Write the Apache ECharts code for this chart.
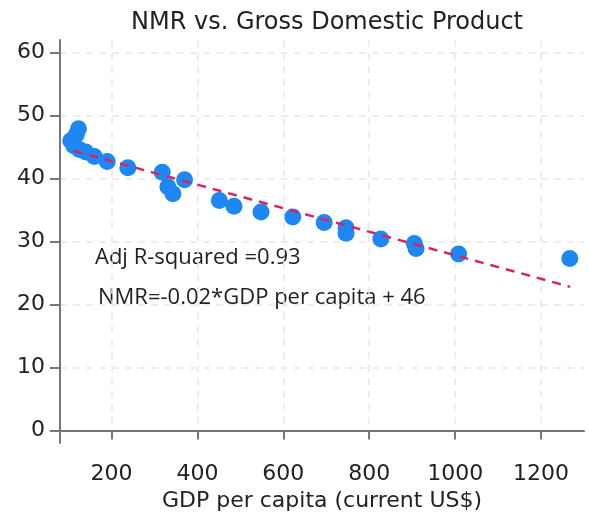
<!DOCTYPE html>
<html>
<head>
<meta charset="utf-8">
<script src="https://cdn.jsdelivr.net/npm/echarts@6/dist/echarts.min.js"></script>
<style>
html,body{margin:0;padding:0;background:#fff;}
#chart{width:589px;height:520px;}
</style>
</head>
<body>
<div id="chart"></div>
<script>
// GDP per capita (current US$)
const gdp = [105, 118, 123, 112, 125, 140, 160, 190, 238, 318, 331, 343, 370, 451, 485, 548, 622, 695, 746, 746, 827, 905, 909, 1008, 1267];
// NMR
const nmr = [46.0, 47.0, 47.9, 45.2, 44.6, 44.2, 43.5, 42.7, 41.7, 41.0, 38.7, 37.6, 39.8, 36.5, 35.6, 34.7, 33.9, 33.0, 32.2, 31.3, 30.4, 29.7, 28.9, 28.0, 27.3];
// fitted line endpoints
const fitX = [112, 1268];
const fitY = [44.4, 22.8];
const xTicks = [200, 400, 600, 800, 1000, 1200];
const yTicks = [0, 10, 20, 30, 40, 50, 60];
const titleText = 'NMR vs. Gross Domestic Product';
const xName = 'GDP per capita (current US$)';
const annot1 = 'Adj R-squared =0.93';
const annot2 = 'NMR=-0.02*GDP per capita + 46';

const points = gdp.map((g, i) => [g, nmr[i]]);
const fit = fitX.map((x, i) => [x, fitY[i]]);

const chart = echarts.init(document.getElementById('chart'));
const axisFont = {fontFamily: 'DejaVu Sans', fontSize: 22, color: '#222', formatter: v => String(v)};
const gridLine = {show: true, lineStyle: {color: '#e8e8e8', type: [7, 6], width: 1.5}};

chart.setOption({
  animation: false,
  backgroundColor: '#fff',
  title: {
    text: titleText, left: 322, top: 6, textAlign: 'center',
    textStyle: {fontFamily: 'DejaVu Sans', fontSize: 24, fontWeight: 'normal', color: '#222'}
  },
  grid: {left: 60, right: 5, top: 40, bottom: 77, containLabel: false, outerBoundsMode: 'none'},
  xAxis: {
    type: 'value', min: 80, max: 1300,
    name: xName, nameLocation: 'middle', nameGap: 44,
    nameTextStyle: {fontFamily: 'DejaVu Sans', fontSize: 22, color: '#222'},
    axisLine: {show: true, lineStyle: {color: '#777', width: 2}},
    axisTick: {show: true, length: 9, customValues: xTicks, lineStyle: {color: '#777', width: 2}},
    axisLabel: Object.assign({margin: 20, customValues: xTicks}, axisFont),
    splitLine: Object.assign({customValues: xTicks}, gridLine)
  },
  yAxis: {
    type: 'value', min: -2, max: 62,
    axisLine: {show: true, lineStyle: {color: '#777', width: 2}},
    axisTick: {show: true, length: 10, customValues: yTicks, lineStyle: {color: '#777', width: 2}},
    axisLabel: Object.assign({margin: 15, customValues: yTicks}, axisFont),
    splitLine: Object.assign({customValues: yTicks}, gridLine)
  },
  graphic: [
    {type: 'text', left: 95, top: 247, style: {text: annot1, font: '22px "Open Sans"', fill: '#222'}},
    {type: 'text', left: 98, top: 287, style: {text: annot2, font: '22px "Open Sans"', fill: '#222'}}
  ],
  series: [
    {
      type: 'scatter', data: points, symbolSize: 17,
      itemStyle: {color: '#1e88f2', opacity: 1}, z: 2
    },
    {
      type: 'line', data: fit, symbol: 'none', z: 3,
      lineStyle: {color: '#dc2266', width: 2.5, type: [9, 7]}
    }
  ]
});
</script>
</body>
</html>
